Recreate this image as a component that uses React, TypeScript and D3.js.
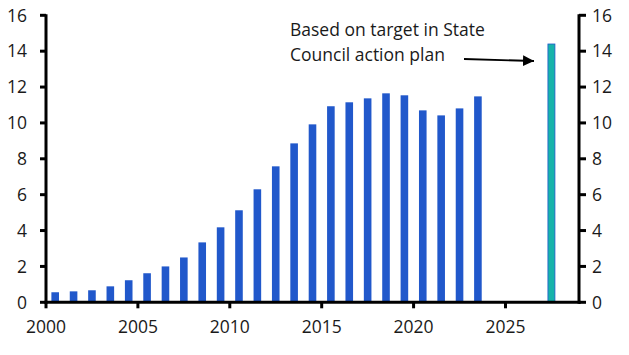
import React from "react";
import * as d3 from "d3";

const years = [2000,2001,2002,2003,2004,2005,2006,2007,2008,2009,2010,2011,2012,2013,2014,2015,2016,2017,2018,2019,2020,2021,2022,2023];
const values = [0.56,0.61,0.67,0.89,1.23,1.62,2.0,2.5,3.34,4.18,5.13,6.3,7.58,8.86,9.92,10.93,11.15,11.37,11.65,11.54,10.7,10.42,10.81,11.48];
const targetYear = 2027;
const targetValue = 14.4;
const xTicks = [2000,2005,2010,2015,2020,2025];
const yTicks = [0,2,4,6,8,10,12,14,16];
const noteLines = ["Based on target in State", "Council action plan"];

const W = 629, H = 355;
const FONT = "'Open Sans', sans-serif";
const TEXT = "#1a1a1a";

export default function App() {
  const x = d3.scaleLinear().domain([2000, 2029]).range([46, 579]);
  const y = d3.scaleLinear().domain([0, 16]).range([302.3, 15.3]);
  const bw = 7.6;
  return (
    <svg width={W} height={H} style={{ position: "absolute", left: 0, top: 0, fontFamily: FONT }}>
      <defs>
        <marker id="ah" viewBox="0 0 10 10" refX="10" refY="5" markerWidth="11" markerHeight="12" markerUnits="userSpaceOnUse" orient="auto">
          <path d="M0,0 L10,5 L0,10 Z" fill="#000" />
        </marker>
      </defs>
      {years.map((yr, i) => (
        <rect key={yr} x={x(yr + 0.5) - bw / 2} y={y(values[i])} width={bw} height={y(0) - y(values[i])} fill="#2158CB" />
      ))}
      <rect x={x(targetYear + 0.5) - 3.5} y={y(targetValue)} width={7} height={y(0) - y(targetValue)} fill="#17B2AA" stroke="#2158CB" strokeWidth={0.8} />
      <line x1={46} x2={46} y1={y(16) - 1} y2={y(0) + 1.5} stroke="#000" strokeWidth={3} />
      <line x1={579} x2={579} y1={y(16) - 1} y2={y(0) + 1.5} stroke="#000" strokeWidth={3} />
      <line x1={44.5} x2={580.5} y1={y(0)} y2={y(0)} stroke="#000" strokeWidth={3} />
      {yTicks.map(t => (
        <g key={t}>
          <line x1={40} x2={46} y1={y(t)} y2={y(t)} stroke="#000" strokeWidth={3} />
          <text x={27} y={y(t)} dy="0.36em" textAnchor="end" fontSize={17.5} fill={TEXT}>{t}</text>
          <line x1={579} x2={586} y1={y(t)} y2={y(t)} stroke="#000" strokeWidth={3} />
          <text x={592} y={y(t)} dy="0.36em" textAnchor="start" fontSize={17.5} fill={TEXT}>{t}</text>
        </g>
      ))}
      {xTicks.map(t => (
        <g key={t}>
          <line x1={x(t)} x2={x(t)} y1={y(0)} y2={y(0) + 6} stroke="#000" strokeWidth={3} />
          <text x={x(t)} y={333} textAnchor="middle" fontSize={17.5} fill={TEXT}>{t}</text>
        </g>
      ))}
      {noteLines.map((l, i) => (
        <text key={i} x={290} y={36 + i * 25} fontSize={17.5} fill={TEXT}>{l}</text>
      ))}
      <line x1={464} y1={59} x2={534} y2={61} stroke="#000" strokeWidth={1.8} markerEnd="url(#ah)" />
    </svg>
  );
}
